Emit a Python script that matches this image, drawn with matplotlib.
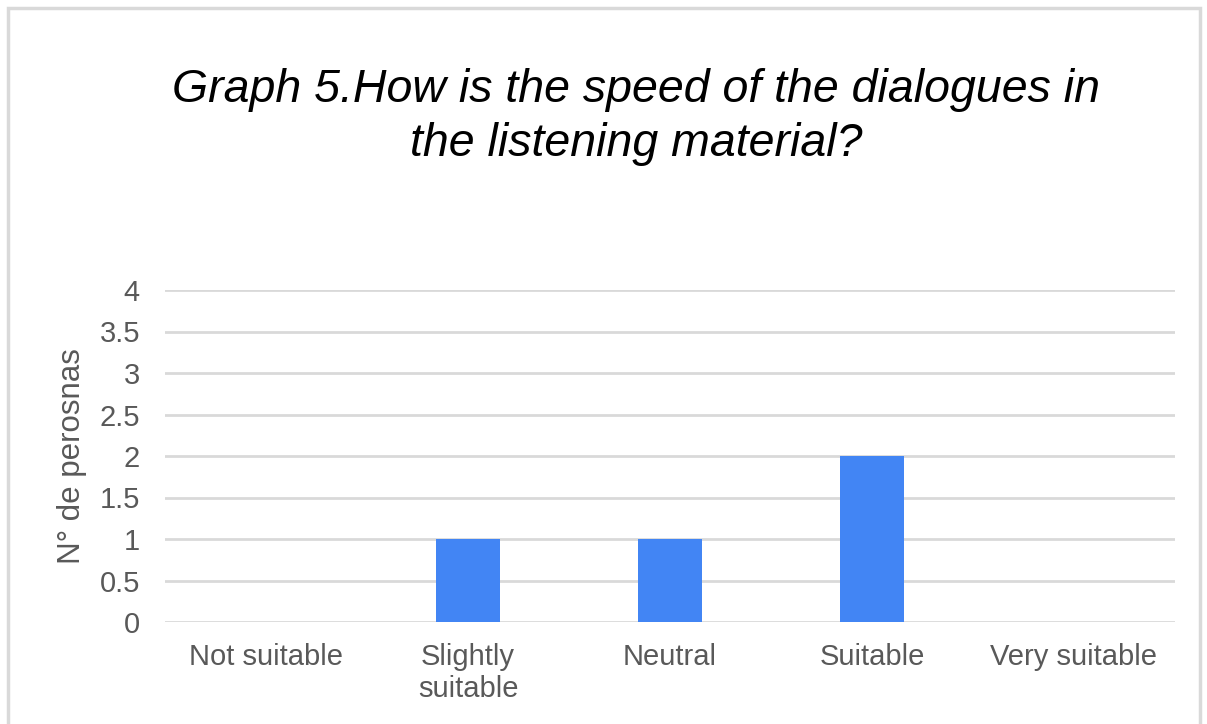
import matplotlib
matplotlib.use("Agg")
from matplotlib import pyplot as plt
from matplotlib.patches import Rectangle

categories = ["Not suitable", "Slightly\nsuitable", "Neutral", "Suitable", "Very suitable"]
counts = [0, 1, 1, 2, 0]
yticks = [0, 0.5, 1, 1.5, 2, 2.5, 3, 3.5, 4]
ytick_labels = ["0", "0.5", "1", "1.5", "2", "2.5", "3", "3.5", "4"]

plt.rcParams['font.family'] = ['Liberation Sans', 'DejaVu Sans']

fig = plt.figure(figsize=(12.07, 7.24), dpi=100)
fig.patches.append(Rectangle((8 / 1207, -0.1), 1192 / 1207, 1.1 - 8 / 724,
                             transform=fig.transFigure, fill=False,
                             edgecolor="#d9d9d9", linewidth=2.5))

ax = fig.add_axes([165 / 1207, 1 - 622 / 724, 1010 / 1207, 332 / 724])
x = range(len(categories))
ax.bar(x, counts, width=0.317, color="#4285f4", zorder=3)

ax.set_xlim(-0.5, len(categories) - 0.5)
ax.set_ylim(0, 4)
ax.set_yticks(yticks)
ax.set_yticklabels(ytick_labels)
ax.set_xticks(list(x))
ax.set_xticklabels(categories, linespacing=1.2)
ax.grid(axis="y", color="#d9d9d9", linewidth=2)
ax.tick_params(axis="both", length=0, labelsize=21, labelcolor="#595959")
ax.tick_params(axis="x", pad=15)
ax.tick_params(axis="y", pad=18)
for s in ax.spines.values():
    s.set_visible(False)

ax.set_ylabel("N° de perosnas", fontsize=22.5, color="#595959", labelpad=9)

fig.text(0.527, 0.838, "Graph 5.How is the speed of the dialogues in\nthe listening material?",
         ha="center", va="center", fontsize=33.5, style="italic", color="black",
         linespacing=1.3)

fig.savefig("out.png", dpi=100)
